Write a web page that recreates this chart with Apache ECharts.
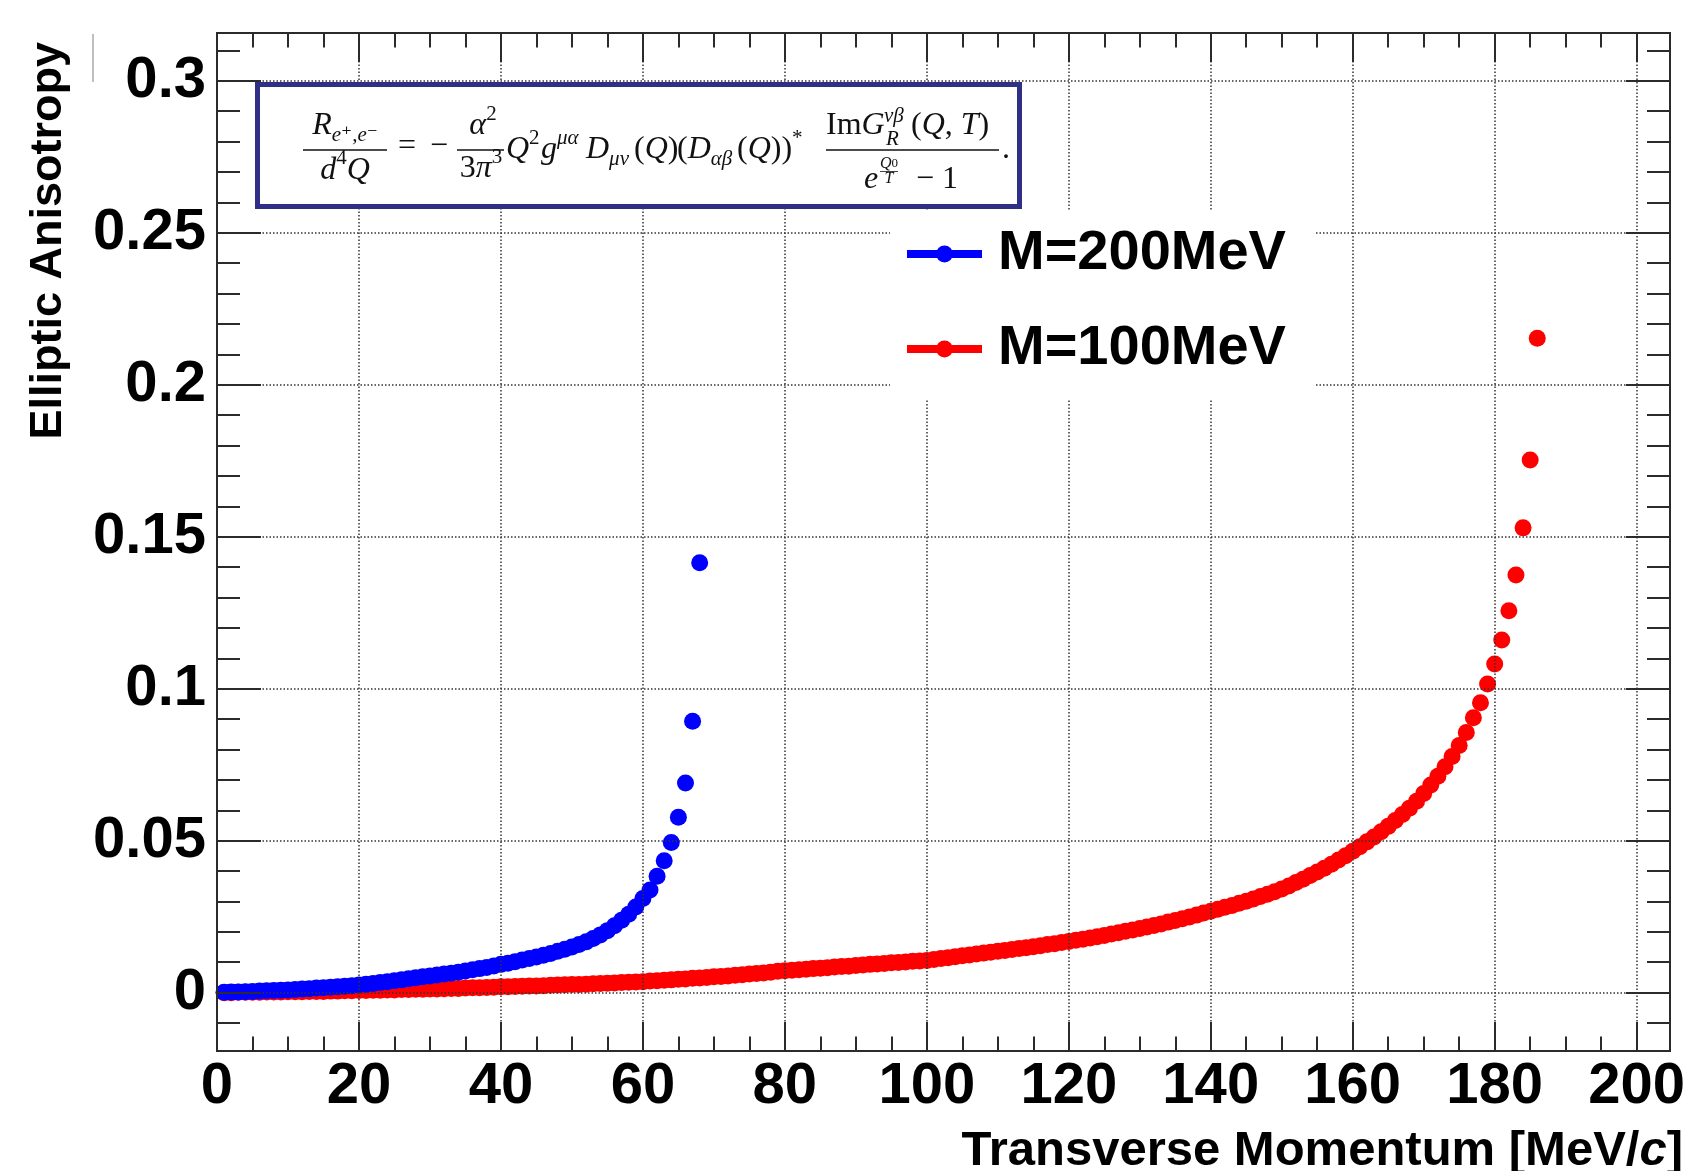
<!DOCTYPE html>
<html>
<head>
<meta charset="utf-8">
<title>Elliptic Anisotropy vs Transverse Momentum</title>
<script src="https://cdn.jsdelivr.net/npm/echarts@6/dist/echarts.min.js"></script>
<style>
  html, body { margin: 0; padding: 0; background: #fff; }
  #chart { width: 1687px; height: 1171px; }
</style>
</head>
<body>
<div id="chart"></div>
<script>
// values (MeV/c, v2)
const momentum200 = [
  1, 2, 3, 4, 5, 6, 7, 8, 9, 10, 11, 12, 13, 14, 15, 16, 17, 18, 19, 20,
  21, 22, 23, 24, 25, 26, 27, 28, 29, 30, 31, 32, 33, 34, 35, 36, 37, 38, 39, 40,
  41, 42, 43, 44, 45, 46, 47, 48, 49, 50, 51, 52, 53, 54, 55, 56, 57, 58, 59, 60,
  61, 62, 63, 64, 65, 66, 67, 68
]
const v2_200 = [
  0.0001, 0.0002, 0.0002, 0.0003, 0.0004, 0.0005, 0.0006, 0.0007, 0.0008, 0.0009, 0.0010, 0.0012, 0.0013, 0.0015, 0.0016, 0.0018, 0.0019, 0.0021, 0.0023, 0.0025,
  0.0028, 0.0030, 0.0033, 0.0036, 0.0039, 0.0042, 0.0046, 0.0049, 0.0052, 0.0055, 0.0058, 0.0061, 0.0064, 0.0067, 0.0071, 0.0075, 0.0079, 0.0083, 0.0088, 0.0093,
  0.0097, 0.0102, 0.0107, 0.0112, 0.0117, 0.0123, 0.0129, 0.0136, 0.0143, 0.0150, 0.0158, 0.0167, 0.0178, 0.0190, 0.0204, 0.0220, 0.0238, 0.0258, 0.0282, 0.0310,
  0.0338, 0.0383, 0.0434, 0.0494, 0.0577, 0.0690, 0.0893, 0.1414
]
const momentum100 = [
  1, 2, 3, 4, 5, 6, 7, 8, 9, 10, 11, 12, 13, 14, 15, 16, 17, 18, 19, 20,
  21, 22, 23, 24, 25, 26, 27, 28, 29, 30, 31, 32, 33, 34, 35, 36, 37, 38, 39, 40,
  41, 42, 43, 44, 45, 46, 47, 48, 49, 50, 51, 52, 53, 54, 55, 56, 57, 58, 59, 60,
  61, 62, 63, 64, 65, 66, 67, 68, 69, 70, 71, 72, 73, 74, 75, 76, 77, 78, 79, 80,
  81, 82, 83, 84, 85, 86, 87, 88, 89, 90, 91, 92, 93, 94, 95, 96, 97, 98, 99, 100,
  101, 102, 103, 104, 105, 106, 107, 108, 109, 110, 111, 112, 113, 114, 115, 116, 117, 118, 119, 120,
  121, 122, 123, 124, 125, 126, 127, 128, 129, 130, 131, 132, 133, 134, 135, 136, 137, 138, 139, 140,
  141, 142, 143, 144, 145, 146, 147, 148, 149, 150, 151, 152, 153, 154, 155, 156, 157, 158, 159, 160,
  161, 162, 163, 164, 165, 166, 167, 168, 169, 170, 171, 172, 173, 174, 175, 176, 177, 178, 179, 180,
  181, 182, 183, 184, 185, 186
]
const v2_100 = [
  0.0000, 0.0000, 0.0001, 0.0001, 0.0001, 0.0001, 0.0002, 0.0002, 0.0002, 0.0003, 0.0003, 0.0003, 0.0004, 0.0004, 0.0004, 0.0005, 0.0005, 0.0006, 0.0006, 0.0007,
  0.0007, 0.0008, 0.0008, 0.0009, 0.0009, 0.0010, 0.0010, 0.0011, 0.0011, 0.0012, 0.0012, 0.0013, 0.0014, 0.0014, 0.0015, 0.0016, 0.0016, 0.0017, 0.0018, 0.0019,
  0.0019, 0.0020, 0.0021, 0.0022, 0.0022, 0.0023, 0.0024, 0.0025, 0.0026, 0.0027, 0.0027, 0.0028, 0.0029, 0.0030, 0.0031, 0.0032, 0.0033, 0.0034, 0.0035, 0.0036,
  0.0038, 0.0039, 0.0041, 0.0042, 0.0044, 0.0045, 0.0047, 0.0048, 0.0050, 0.0052, 0.0053, 0.0055, 0.0057, 0.0059, 0.0061, 0.0063, 0.0065, 0.0067, 0.0070, 0.0072,
  0.0074, 0.0075, 0.0077, 0.0079, 0.0080, 0.0082, 0.0084, 0.0086, 0.0087, 0.0089, 0.0091, 0.0093, 0.0094, 0.0096, 0.0098, 0.0099, 0.0101, 0.0103, 0.0104, 0.0106,
  0.0109, 0.0112, 0.0115, 0.0118, 0.0121, 0.0124, 0.0127, 0.0130, 0.0133, 0.0136, 0.0139, 0.0142, 0.0145, 0.0148, 0.0151, 0.0154, 0.0158, 0.0161, 0.0165, 0.0168,
  0.0172, 0.0176, 0.0180, 0.0184, 0.0188, 0.0193, 0.0197, 0.0202, 0.0206, 0.0211, 0.0216, 0.0221, 0.0226, 0.0232, 0.0237, 0.0243, 0.0249, 0.0255, 0.0262, 0.0268,
  0.0274, 0.0281, 0.0287, 0.0294, 0.0301, 0.0308, 0.0316, 0.0324, 0.0332, 0.0341, 0.0351, 0.0362, 0.0373, 0.0385, 0.0397, 0.0409, 0.0422, 0.0436, 0.0450, 0.0465,
  0.0480, 0.0496, 0.0512, 0.0529, 0.0547, 0.0566, 0.0586, 0.0607, 0.0630, 0.0655, 0.0683, 0.0712, 0.0743, 0.0777, 0.0813, 0.0856, 0.0904, 0.0954, 0.1015, 0.1081,
  0.1160, 0.1256, 0.1374, 0.1529, 0.1752, 0.2153
]
const seriesNames = ['M=200MeV', 'M=100MeV']

// axis ticks
const xTicks = [0, 20, 40, 60, 80, 100, 120, 140, 160, 180, 200]
const xMinorTicks = [5, 10, 15, 25, 30, 35, 45, 50, 55, 65, 70, 75, 85, 90, 95, 105, 110, 115,
  125, 130, 135, 145, 150, 155, 165, 170, 175, 185, 190, 195]
const yTicks = [0, 0.05, 0.1, 0.15, 0.2, 0.25, 0.3]
const yTickLabels = ['0', '0.05', '0.1', '0.15', '0.2', '0.25', '0.3']
const yMinorTicks = [-0.01, 0.01, 0.02, 0.03, 0.04, 0.06, 0.07, 0.08, 0.09, 0.11, 0.12, 0.13, 0.14,
  0.16, 0.17, 0.18, 0.19, 0.21, 0.22, 0.23, 0.24, 0.26, 0.27, 0.28, 0.29, 0.31]

const xMin = 0, xMax = 204.7
const yMin = -0.0192, yMax = 0.3157

const SANS = '"Liberation Sans", Arial, sans-serif'
const SERIF = '"Liberation Serif", "DejaVu Serif", serif'
const frameLine = { color: '#2b2b2b', width: 2 }
const gridDots = { color: '#333', width: 1.5, type: [1.5, 2] }

function pairs(xs, ys) {
  return xs.map((x, i) => [x, ys[i]])
}

function xFrame(position, ticks, len, major) {
  const labelled = major && position === 'bottom'
  return {
    type: 'value', position, min: xMin, max: xMax, z: 3,
    axisLine: { show: true, onZero: false, lineStyle: frameLine },
    axisTick: { show: true, inside: true, length: len, customValues: ticks, lineStyle: frameLine },
    axisLabel: labelled ? {
      show: true, customValues: ticks, margin: 7,
      fontFamily: SANS, fontWeight: 'bold', fontSize: 58, color: '#000'
    } : { show: false },
    splitLine: labelled ? { show: true, lineStyle: gridDots } : { show: false }
  }
}

function yFrame(position, ticks, len, major) {
  const labelled = major && position === 'left'
  return {
    type: 'value', position, min: yMin, max: yMax, z: 3,
    axisLine: { show: true, onZero: false, lineStyle: frameLine },
    axisTick: { show: true, inside: true, length: len, customValues: ticks, lineStyle: frameLine },
    axisLabel: labelled ? {
      show: true, customValues: ticks, margin: 11,
      fontFamily: SANS, fontWeight: 'bold', fontSize: 58, color: '#000',
      formatter: v => {
        const i = yTicks.findIndex(t => Math.abs(t - v) < 1e-9)
        return i < 0 ? '' : yTickLabels[i]
      }
    } : { show: false },
    splitLine: labelled ? { show: true, lineStyle: gridDots } : { show: false }
  }
}

// formula in the framed box
const mathRich = {
  i: { fontFamily: SERIF, fontStyle: 'italic', fontSize: 32, lineHeight: 40 },
  r: { fontFamily: SERIF, fontSize: 32, lineHeight: 40 },
  sp: { fontFamily: SERIF, fontStyle: 'italic', fontSize: 21, height: 16, verticalAlign: 'top' },
  spr: { fontFamily: SERIF, fontSize: 21, height: 16, verticalAlign: 'top' },
  sb: { fontFamily: SERIF, fontStyle: 'italic', fontSize: 21, height: 22, verticalAlign: 'bottom' },
  si: { fontFamily: SERIF, fontStyle: 'italic', fontSize: 21 },
  ti: { fontFamily: SERIF, fontStyle: 'italic', fontSize: 16 },
  tr: { fontFamily: SERIF, fontSize: 13 }
}
function mathText(x, y, text, align) {
  const a = align || 'left'
  return {
    type: 'text', z: 11, x, y, silent: true,
    style: { text, rich: mathRich, fill: '#111', align: a, textAlign: a, verticalAlign: 'middle', textVerticalAlign: 'middle' }
  }
}
function mathBar(x1, x2, y, w) {
  return { type: 'line', z: 11, silent: true, shape: { x1, y1: y, x2, y2: y }, style: { stroke: '#111', lineWidth: w || 1.3 } }
}

const formula = [
  { type: 'rect', z: 10, silent: true, shape: { x: 257.5, y: 84.5, width: 762, height: 122 },
    style: { fill: '#fff', stroke: '#2f2f86', lineWidth: 5 } },
  mathText(345, 126, '{i|R}{sb|e⁺,e⁻}', 'center'),
  mathBar(303, 387, 150),
  mathText(345, 170.5, '{i|d}{spr|4}{i|Q}', 'center'),
  mathText(398, 147, '{r|=}'),
  mathText(430, 147, '{r|−}'),
  mathText(483, 126, '{i|α}{spr|2}', 'center'),
  mathBar(457, 504, 150),
  mathText(481, 169, '{r|3}{i|π}{spr|3}', 'center'),
  mathText(506, 150, '{i|Q}{spr|2}'),
  mathText(541, 150, '{i|g}{sp|μα}'),
  mathText(586, 150, '{i|D}{sb|μν}'),
  mathText(634, 150, '{r|(}{i|Q}{r|)}'),
  mathText(677, 150, '{r|(}{i|D}{sb|αβ}'),
  mathText(737, 150, '{r|(}{i|Q}{r|))}{spr|*}'),
  mathText(826, 126, '{r|Im}{i|G}'),
  mathText(884, 116, '{si|νβ}'),
  mathText(886, 139, '{si|R}'),
  mathText(911, 126, '{r|(}{i|Q}{r|, }{i|T}{r|)}'),
  mathBar(826, 999, 150),
  mathText(864, 180, '{i|e}'),
  mathText(889, 164, '{ti|Q}{tr|0}', 'center'),
  mathBar(880, 898, 171.5, 0.8),
  mathText(889, 178.5, '{ti|T}', 'center'),
  mathText(916, 180, '{r|− 1}'),
  mathText(1002, 150, '{r|.}')
]

const titles = [
  {
    type: 'text', z: 11, x: 48.5, y: 42, rotation: Math.PI / 2, silent: true,
    style: {
      text: 'Elliptic Anisotropy', fill: '#000',
      font: 'bold 45px ' + SANS, align: 'right', textAlign: 'right',
      verticalAlign: 'middle', textVerticalAlign: 'middle'
    }
  },
  {
    type: 'text', z: 11, x: 1683, y: 1151, silent: true,
    style: {
      text: '{b|Transverse Momentum [MeV/}{c|c}{b|]}', fill: '#000',
      rich: {
        b: { fontFamily: SANS, fontWeight: 'bold', fontSize: 49 },
        c: { fontFamily: SANS, fontWeight: 'bold', fontStyle: 'italic', fontSize: 49 }
      },
      align: 'right', textAlign: 'right', verticalAlign: 'middle', textVerticalAlign: 'middle'
    }
  },
  { type: 'line', z: 11, silent: true, shape: { x1: 93, y1: 34, x2: 93, y2: 82 },
    style: { stroke: '#aaa', lineWidth: 1.5 } }
]

const legendIcon = 'path://M0 4.5H75V12.5H0Z M29 8.5A8.5 8.5 0 1 1 46 8.5A8.5 8.5 0 1 1 29 8.5Z'

const chart = echarts.init(document.getElementById('chart'), null, { renderer: 'canvas' })
chart.setOption({
  animation: false,
  backgroundColor: '#fff',
  grid: { left: 217, top: 33, width: 1453, height: 1018, containLabel: false, outerBoundsMode: 'none' },
  xAxis: [
    xFrame('bottom', xTicks, 29, true),
    xFrame('bottom', xMinorTicks, 14.5, false),
    xFrame('top', xTicks, 29, true),
    xFrame('top', xMinorTicks, 14.5, false)
  ],
  yAxis: [
    yFrame('left', yTicks, 44, true),
    yFrame('left', yMinorTicks, 23, false),
    yFrame('right', yTicks, 44, true),
    yFrame('right', yMinorTicks, 23, false)
  ],
  legend: {
    data: [
      { name: seriesNames[0], icon: legendIcon },
      { name: seriesNames[1], icon: legendIcon }
    ],
    orient: 'vertical', left: 890, top: 210,
    padding: [16, 30, 23, 17], itemGap: 39, itemWidth: 75, itemHeight: 17,
    backgroundColor: '#fff', selectedMode: false, z: 4,
    textStyle: {
      fontFamily: SANS, fontWeight: 'bold', fontSize: 56, lineHeight: 56,
      color: '#000', padding: [0, 0, 0, 11]
    }
  },
  graphic: { elements: formula.concat(titles) },
  series: [
    {
      name: seriesNames[1], type: 'scatter', xAxisIndex: 0, yAxisIndex: 0, z: 2,
      symbol: 'circle', symbolSize: 17, itemStyle: { color: '#ff0000', opacity: 1 },
      data: pairs(momentum100, v2_100)
    },
    {
      name: seriesNames[0], type: 'scatter', xAxisIndex: 0, yAxisIndex: 0, z: 2,
      symbol: 'circle', symbolSize: 17, itemStyle: { color: '#0000ff', opacity: 1 },
      data: pairs(momentum200, v2_200)
    }
  ]
})
</script>
</body>
</html>
